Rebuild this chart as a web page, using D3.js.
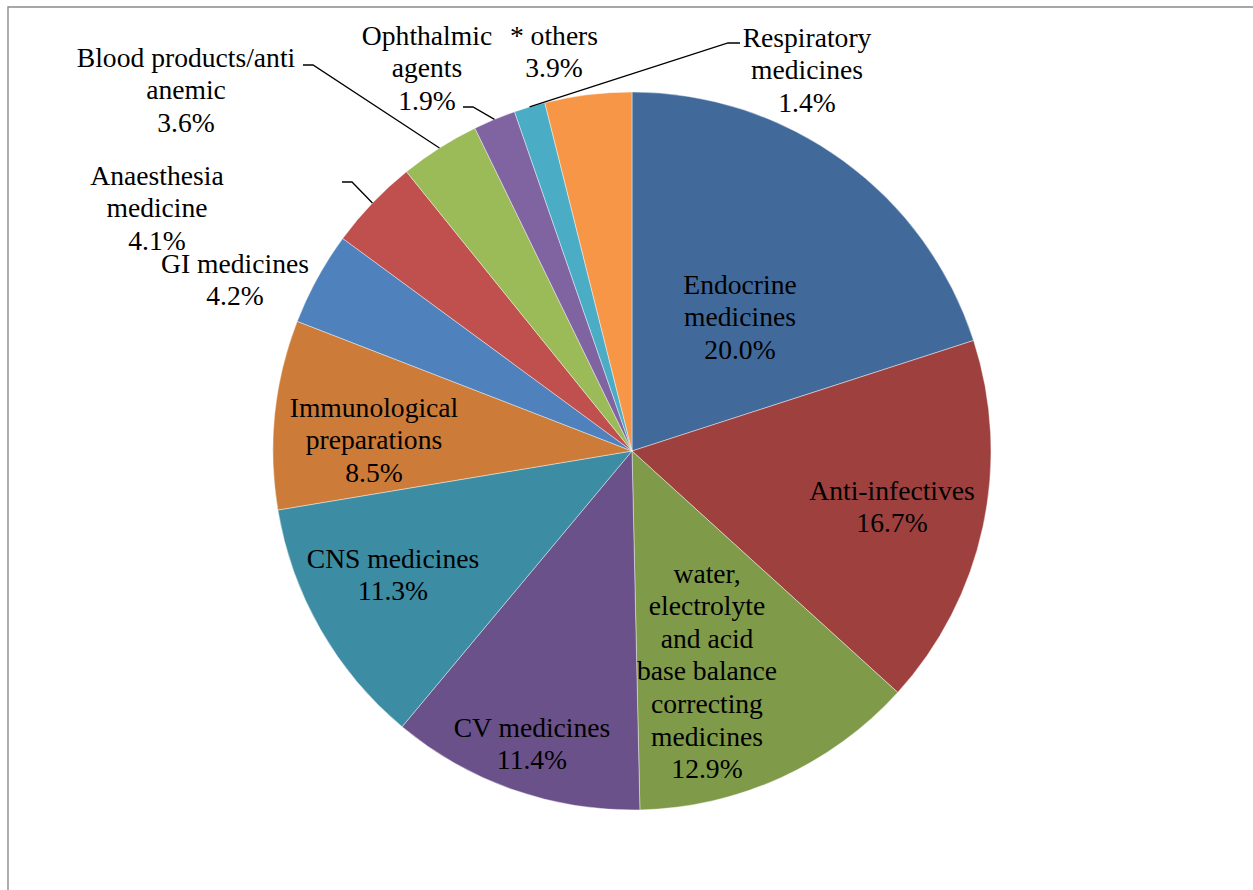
<!DOCTYPE html>
<html>
<head>
<meta charset="utf-8">
<script src="https://cdn.jsdelivr.net/npm/d3@7"></script>
<style>
  html, body { margin: 0; padding: 0; background: #fff; }
  svg { display: block; }
</style>
</head>
<body>
<svg id="chart" width="1253" height="890"></svg>
<script>
// Share of medicines by therapeutic class (%), clockwise from 12 o'clock
const categories = [
  "Endocrine medicines",
  "Anti-infectives",
  "water, electrolyte and acid base balance correcting medicines",
  "CV medicines",
  "CNS medicines",
  "Immunological preparations",
  "GI medicines",
  "Anaesthesia medicine",
  "Blood products/anti anemic",
  "Ophthalmic agents",
  "Respiratory medicines",
  "* others"
];
const shares = [20.0, 16.7, 12.9, 11.4, 11.3, 8.5, 4.2, 4.1, 3.6, 1.9, 1.4, 3.9];
const sliceColors = [
  "#416A9B", "#9E413E", "#7F9A48", "#6A5189", "#3C8CA3", "#CC7B38",
  "#4F81BD", "#C0504D", "#9BBB59", "#8064A2", "#4BACC6", "#F79646"
];

// Label text broken into lines (category lines, then the percentage)
const labelLines = [
  ["Endocrine", "medicines"],
  ["Anti-infectives"],
  ["water,", "electrolyte", "and acid", "base balance", "correcting", "medicines"],
  ["CV medicines"],
  ["CNS medicines"],
  ["Immunological", "preparations"],
  ["GI medicines"],
  ["Anaesthesia", "medicine"],
  ["Blood products/anti", "anemic"],
  ["Ophthalmic", "agents"],
  ["Respiratory", "medicines"],
  ["* others"]
];

// Label placement: centre x and first-line y of each label block
const labelPos = [
  [740, 284], [892, 490], [707, 573], [532, 727], [393, 558], [374, 407],
  [235, 263], [157, 175], [186, 57], [427, 35], [807, 37], [554, 35]
];
// Leader lines for outside labels: [x of label end, x of elbow, y]
const leaders = {
  8:  [303, 313, 65],
  7:  [342, 352, 182],
  9:  [463, 473, 107],
  10: [740, 728, 43]
};

const width = 1253, height = 890;
const cx = 632, cy = 451, radius = 359;
const lineStep = 32.6;
const fontSize = 27.6;
const fontFamily = "'Liberation Serif', 'Times New Roman', Tinos, 'DejaVu Serif', serif";

const svg = d3.select("#chart");

// Frame (top and left edges)
svg.append("path")
  .attr("d", `M8,${height} L8,7 L${width},7`)
  .attr("fill", "none")
  .attr("stroke", "#8a8a8a")
  .attr("stroke-width", 1.4);

const pie = d3.pie().sort(null).value(d => d);
const arcs = pie(shares);
const arc = d3.arc().innerRadius(0).outerRadius(radius);

const g = svg.append("g").attr("transform", `translate(${cx},${cy})`);

g.selectAll("path.slice")
  .data(arcs)
  .join("path")
  .attr("class", "slice")
  .attr("d", arc)
  .attr("fill", (d, i) => sliceColors[i])
  .attr("stroke", "#ffffff")
  .attr("stroke-width", 0.6)
  .attr("stroke-opacity", 0.7);

// Leader lines from the middle of the slice edge to the label
const lg = svg.append("g");
arcs.forEach((d, i) => {
  const ld = leaders[i];
  if (!ld) return;
  const mid = (d.startAngle + d.endAngle) / 2;
  const px = cx + radius * Math.sin(mid);
  const py = cy - radius * Math.cos(mid);
  lg.append("polyline")
    .attr("points", `${px},${py} ${ld[1]},${ld[2]} ${ld[0]},${ld[2]}`)
    .attr("fill", "none")
    .attr("stroke", "#000")
    .attr("stroke-width", 1.3);
});

// Labels
const fmt = d3.format(".1f");
const tg = svg.append("g");
arcs.forEach((d, i) => {
  const lines = labelLines[i].concat([fmt(d.data) + "%"]);
  const [x, y] = labelPos[i];
  const t = tg.append("text")
    .attr("text-anchor", "middle")
    .attr("font-family", fontFamily)
    .attr("font-size", fontSize)
    .attr("fill", "#000");
  lines.forEach((s, k) => {
    t.append("tspan")
      .attr("x", x)
      .attr("y", y + k * lineStep)
      .attr("dy", "0.35em")
      .text(s);
  });
});
</script>
</body>
</html>
